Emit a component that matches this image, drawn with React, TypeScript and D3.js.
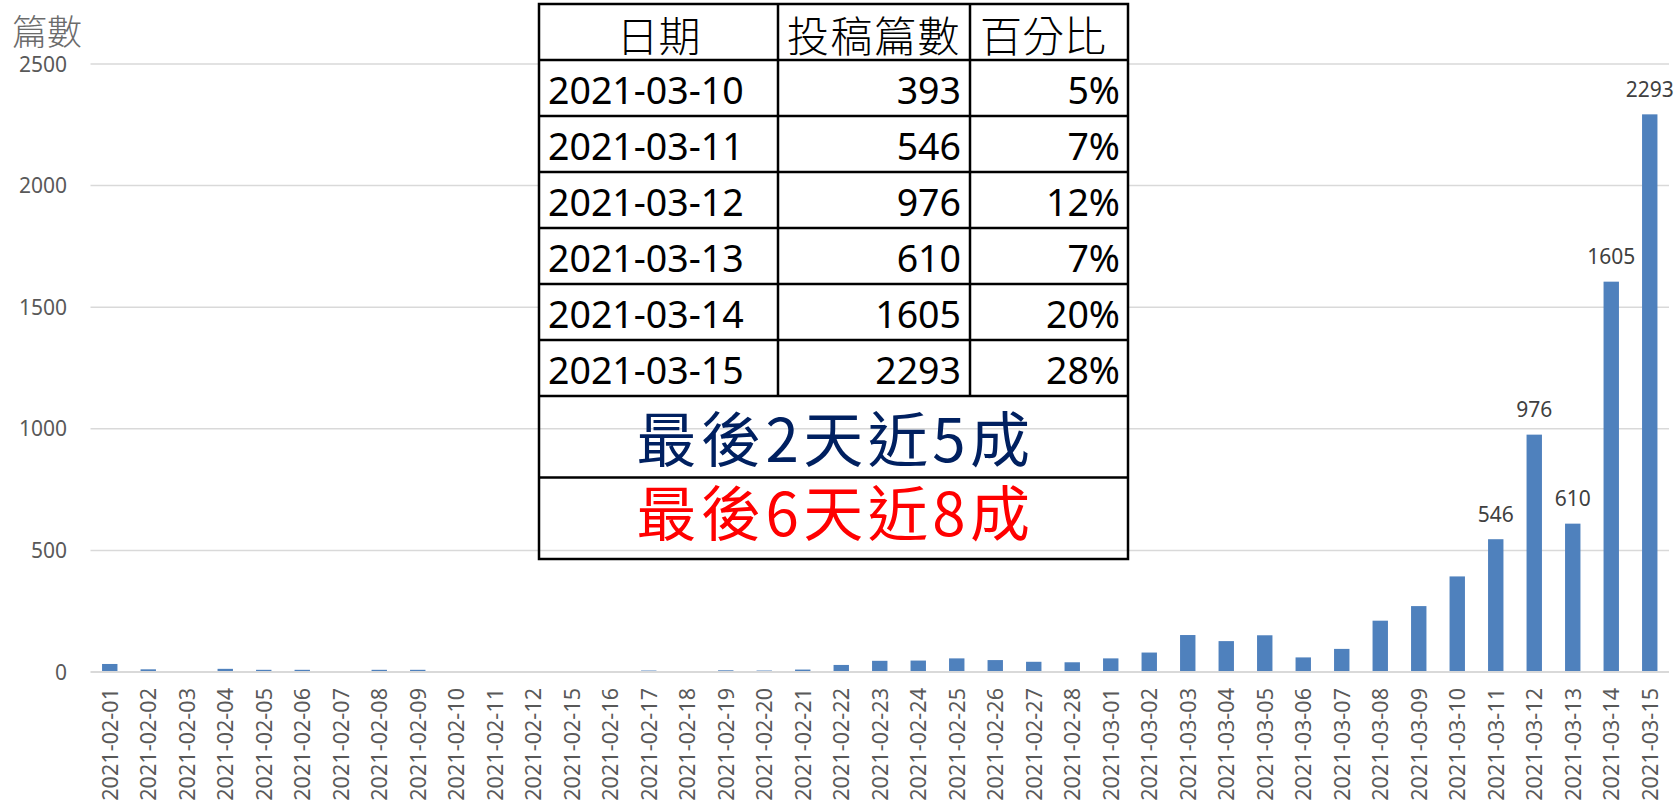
import React from "react";
import * as d3 from "d3";

const dates = [
  "2021-02-01", "2021-02-02", "2021-02-03", "2021-02-04", "2021-02-05", "2021-02-06",
  "2021-02-07", "2021-02-08", "2021-02-09", "2021-02-10", "2021-02-11", "2021-02-12",
  "2021-02-15", "2021-02-16", "2021-02-17", "2021-02-18", "2021-02-19", "2021-02-20",
  "2021-02-21", "2021-02-22", "2021-02-23", "2021-02-24", "2021-02-25", "2021-02-26",
  "2021-02-27", "2021-02-28", "2021-03-01", "2021-03-02", "2021-03-03", "2021-03-04",
  "2021-03-05", "2021-03-06", "2021-03-07", "2021-03-08", "2021-03-09", "2021-03-10",
  "2021-03-11", "2021-03-12", "2021-03-13", "2021-03-14", "2021-03-15",
];

const counts = [
  33, 11, 4, 13, 9, 9, 4, 9, 9, 3, 0, 0,
  0, 3, 6, 4, 7, 6, 10, 29, 46, 47, 56, 49,
  42, 40, 56, 80, 152, 127, 151, 60, 95, 211, 271, 393,
  546, 976, 610, 1605, 2293,
];

// bars that carry a value label
const labelled = ["2021-03-11", "2021-03-12", "2021-03-13", "2021-03-14", "2021-03-15"];

const yTicks = [0, 500, 1000, 1500, 2000, 2500];

const tableHeader = ["日期", "投稿篇數", "百分比"];
const tableDates = ["2021-03-10", "2021-03-11", "2021-03-12", "2021-03-13", "2021-03-14", "2021-03-15"];
const tableCounts = [393, 546, 976, 610, 1605, 2293];
const tablePercents = ["5%", "7%", "12%", "7%", "20%", "28%"];
const noteBlue = "最後2天近5成";
const noteRed = "最後6天近8成";

const W = 1679;
const H = 801;
const margin = { top: 64, right: 10, bottom: 129, left: 90.5 };

const latin = "'Noto Sans', 'Open Sans', sans-serif";
const cjk = "'Noto Sans CJK TC', 'Noto Sans CJK SC', sans-serif";

export default function App() {
  const x = d3
    .scaleBand()
    .domain(dates)
    .range([margin.left, W - margin.right])
    .paddingInner(0.6)
    .paddingOuter(0.3);

  const y = d3
    .scaleLinear()
    .domain([0, 2500])
    .range([H - margin.bottom, margin.top]);

  // table layout
  const colX = [539, 778, 970, 1128];
  const tTop = 4;
  const rowH = 56;
  const noteH = 81.5;
  const dataTop = tTop + rowH;
  const dataBottom = dataTop + rowH * tableDates.length;
  const tBottom = dataBottom + noteH * 2;
  const midX = (colX[0] + colX[3]) / 2;

  return (
    <div style={{ position: "fixed", left: 0, top: 0 }}>
      <svg width={W} height={H} style={{ display: "block", background: "#fff" }}>
        {/* grid */}
        {yTicks.map((t) => (
          <line
            key={t}
            x1={margin.left}
            x2={W - margin.right}
            y1={y(t)}
            y2={y(t)}
            stroke="#d9d9d9"
            strokeWidth={t === 0 ? 2 : 1.5}
          />
        ))}
        {yTicks.map((t) => (
          <text
            key={"yl" + t}
            x={67}
            y={y(t)}
            dy="0.36em"
            textAnchor="end"
            fontFamily={latin}
            fontSize={21}
            fill="#595959"
          >
            {t}
          </text>
        ))}
        <text x={12} y={45} fontFamily={cjk} fontWeight={300} fontSize={35} fill="#6b6b6b">
          篇數
        </text>

        {/* bars */}
        {dates.map((d, i) => (
          <rect
            key={d}
            x={x(d)}
            width={x.bandwidth()}
            y={y(counts[i])}
            height={y(0) - 1 - y(counts[i]) > 0 ? y(0) - 1 - y(counts[i]) : 0}
            fill="#4f81bd"
          />
        ))}
        {dates.map((d, i) =>
          labelled.includes(d) ? (
            <text
              key={"v" + d}
              x={(x(d) as number) + x.bandwidth() / 2}
              y={y(counts[i]) - 17.5}
              textAnchor="middle"
              fontFamily={latin}
              fontSize={21}
              fill="#404040"
            >
              {counts[i]}
            </text>
          ) : null
        )}

        {/* x labels */}
        {dates.map((d) => {
          const cx = (x(d) as number) + x.bandwidth() / 2;
          return (
            <text
              key={"xl" + d}
              transform={`translate(${cx},688) rotate(-90)`}
              dy="0.36em"
              textAnchor="end"
              fontFamily={latin}
              fontSize={21.6}
              fill="#595959"
            >
              {d}
            </text>
          );
        })}

        {/* table */}
        <rect x={colX[0]} y={tTop} width={colX[3] - colX[0]} height={dataBottom - tTop} fill="#fff" />
        {tableHeader.map((h, c) => (
          <text
            key={h}
            x={(colX[c] + colX[c + 1]) / 2 - (c === 2 ? 6 : 0)}
            y={tTop + 48}
            textAnchor="middle"
            fontFamily={cjk}
            fontWeight={300}
            fontSize={42}
            letterSpacing={c === 1 ? 1.5 : 0}
            fill="#000"
          >
            {h}
          </text>
        ))}
        {tableDates.map((d, r) => {
          const base = dataTop + r * rowH + 43.5;
          return (
            <g key={d} fontFamily={latin} fontSize={37.5} fill="#000">
              <text x={colX[0] + 9} y={base}>
                {d}
              </text>
              <text x={colX[2] - 9} y={base} textAnchor="end">
                {tableCounts[r]}
              </text>
              <text x={colX[3] - 8} y={base} textAnchor="end">
                {tablePercents[r]}
              </text>
            </g>
          );
        })}
        <text
          x={midX + 2}
          y={dataBottom + 66}
          textAnchor="middle"
          fontFamily={cjk}
          fontSize={60}
          letterSpacing={4.5}
          fill="#002060"
        >
          {noteBlue}
        </text>
        <text
          x={midX + 2}
          y={dataBottom + noteH + 58}
          textAnchor="middle"
          fontFamily={cjk}
          fontSize={60}
          letterSpacing={4.5}
          fill="#ff0000"
        >
          {noteRed}
        </text>

        <g stroke="#000" strokeWidth={2.5} fill="none">
          <rect x={colX[0]} y={tTop} width={colX[3] - colX[0]} height={tBottom - tTop} />
          {[colX[1], colX[2]].map((cx) => (
            <line key={cx} x1={cx} x2={cx} y1={tTop} y2={dataBottom} />
          ))}
          {d3.range(tableDates.length + 2).map((r) => {
            const ly = r <= tableDates.length ? dataTop + r * rowH : dataBottom + noteH;
            return <line key={r} x1={colX[0]} x2={colX[3]} y1={ly} y2={ly} />;
          })}
        </g>
      </svg>
    </div>
  );
}
